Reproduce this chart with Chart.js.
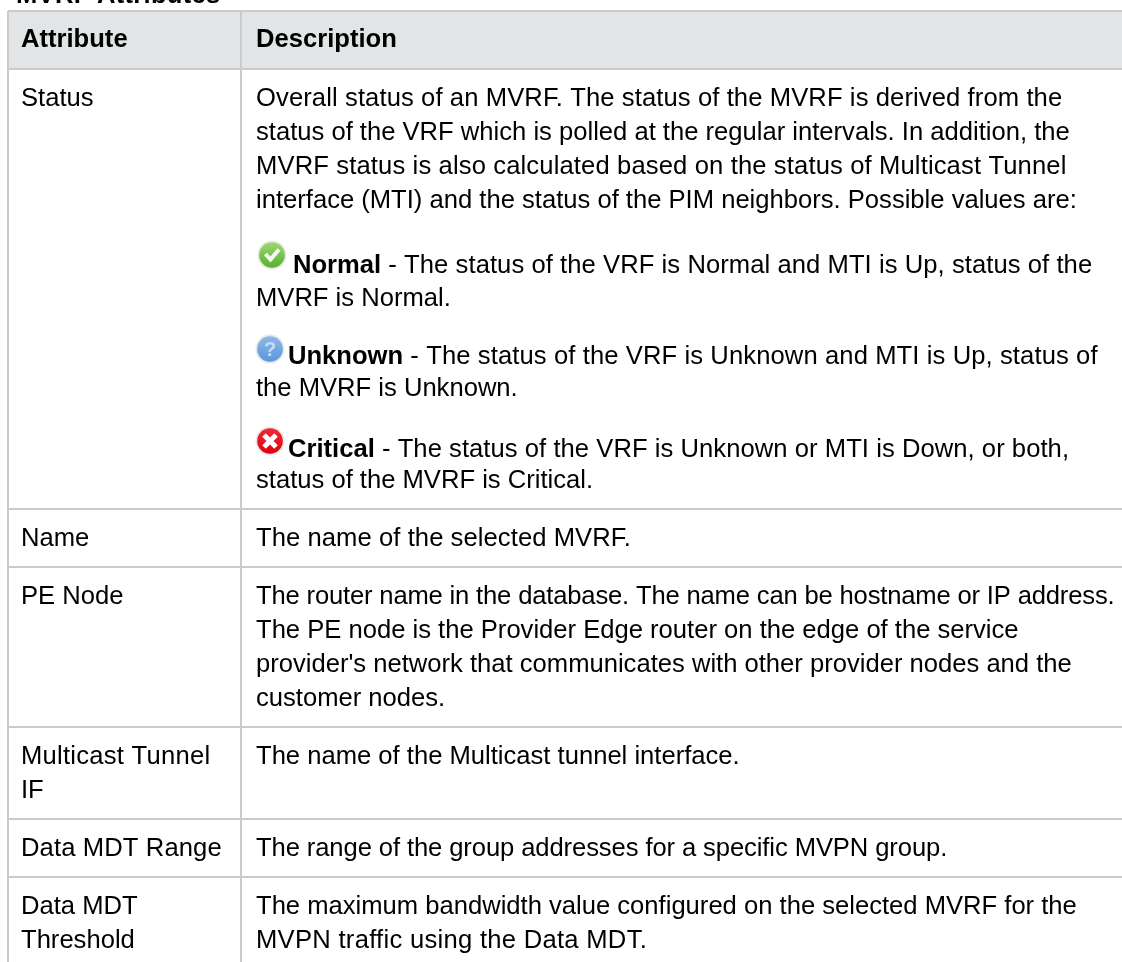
<!DOCTYPE html>
<html>
<head>
<meta charset="utf-8">
<title>MVRF Attributes</title>
<script src="https://cdn.jsdelivr.net/npm/chart.js@4"></script>
<style>
    html, body { margin: 0; padding: 0; background: #fff; overflow: hidden; }
    canvas { display: block; }
</style>
</head>
<body>
<canvas id="tabela" width="1122" height="962"></canvas>
<script>
const titulo = "MVRF Attributes";
const colunas = ["Attribute", "Description"];
const atributos = [
    ["Status"],
    ["Name"],
    ["PE Node"],
    ["Multicast Tunnel", "IF"],
    ["Data MDT Range"],
    ["Data MDT", "Threshold"]
];
const descricoes = [
    [
        "Overall status of an MVRF. The status of the MVRF is derived from the",
        "status of the VRF which is polled at the regular intervals. In addition, the",
        "MVRF status is also calculated based on the status of Multicast Tunnel",
        "interface (MTI) and the status of the PIM neighbors. Possible values are:",
        "Normal - The status of the VRF is Normal and MTI is Up, status of the",
        "MVRF is Normal.",
        "Unknown - The status of the VRF is Unknown and MTI is Up, status of",
        "the MVRF is Unknown.",
        "Critical - The status of the VRF is Unknown or MTI is Down, or both,",
        "status of the MVRF is Critical."
    ],
    ["The name of the selected MVRF."],
    [
        "The router name in the database. The name can be hostname or IP address.",
        "The PE node is the Provider Edge router on the edge of the service",
        "provider's network that communicates with other provider nodes and the",
        "customer nodes."
    ],
    ["The name of the Multicast tunnel interface."],
    ["The range of the group addresses for a specific MVPN group."],
    [
        "The maximum bandwidth value configured on the selected MVRF for the",
        "MVPN traffic using the Data MDT."
    ]
];
const statusNomes = ["Normal", "Unknown", "Critical"];

// layout da tabela, em pixels da imagem
const esquerda = 8, divisao = 241, direita = 1122, topo = 11, baixo = 962;
const bordasLinhas = [69, 509, 567, 727, 819, 877];
const passoStatus = [0, 34, 68, 102, 167, 200, 258, 290, 351, 382];
const passoLinha = 34;
const iconesStatus = {
    Normal: { cx: 272, cy: 255, cor: "#56b02c", claro: "#9ed873", xTexto: 293 },
    Unknown: { cx: 270, cy: 349, cor: "#5b95dc", claro: "#8fb8ea", xTexto: 288 },
    Critical: { cx: 270, cy: 441, cor: "#e2000f", claro: "#ee2a35", xTexto: 288 }
};
const fonte = '"Liberation Sans", Arial, sans-serif';
const tamanho = 25.6;

// algumas linhas do original saem um pouco mais largas ou mais estreitas
const espacamento = {
    "MVRF Attributes": 0.27,
    "Multicast Tunnel": 0.25,
    "Data MDT Range": 0.12,
    "Overall status of an MVRF. The status of the MVRF is derived from the": 0.1,
    "MVRF status is also calculated based on the status of Multicast Tunnel": 0.13,
    " - The status of the VRF is Normal and MTI is Up, status of the": 0.065,
    " - The status of the VRF is Unknown and MTI is Up, status of": 0.1,
    " - The status of the VRF is Unknown or MTI is Down, or both,": 0.05,
    "The name of the selected MVRF.": 0.07,
    "The router name in the database. The name can be hostname or IP address.": -0.17,
    "The range of the group addresses for a specific MVPN group.": -0.1,
    "MVPN traffic using the Data MDT.": 0.28
};

function linhaGrade(x1, y1, x2, y2) {
    return {
        data: [{ x: x1, y: y1 }, { x: x2, y: y2 }],
        showLine: true,
        borderColor: "#cbcbcb",
        borderWidth: 2,
        pointRadius: 0,
        clip: false
    };
}

function montarGrade() {
    const linhas = [
        linhaGrade(esquerda, topo, direita, topo),
        linhaGrade(esquerda, topo, esquerda, baixo),
        linhaGrade(divisao, topo, divisao, baixo)
    ];
    bordasLinhas.forEach(y => linhas.push(linhaGrade(esquerda, y, direita, y)));
    return linhas;
}

function desenharIcone(ctx, cx, cy, nome) {
    const icone = iconesStatus[nome];
    const grad = ctx.createLinearGradient(cx, cy - 13, cx, cy + 13);
    grad.addColorStop(0, icone.claro);
    grad.addColorStop(1, icone.cor);

    ctx.save();
    ctx.letterSpacing = "0px";
    ctx.beginPath();
    ctx.arc(cx, cy, 14.5, 0, Math.PI * 2);
    ctx.fillStyle = "#e6eae6";
    ctx.fill();
    ctx.beginPath();
    ctx.arc(cx, cy, 12.8, 0, Math.PI * 2);
    ctx.fillStyle = grad;
    ctx.fill();

    ctx.strokeStyle = "#f4f8f2";
    ctx.lineCap = "butt";
    if (nome === "Normal") {
        ctx.lineWidth = 4;
        ctx.beginPath();
        ctx.moveTo(cx - 6.5, cy - 1);
        ctx.lineTo(cx - 1.5, cy + 4.5);
        ctx.lineTo(cx + 7, cy - 5.5);
        ctx.stroke();
    } else if (nome === "Unknown") {
        ctx.font = "bold 20px " + fonte;
        ctx.textAlign = "center";
        ctx.fillStyle = "#c8dcf5";
        ctx.fillText("?", cx, cy + 7);
    } else {
        ctx.lineWidth = 5;
        ctx.strokeStyle = "#fff";
        ctx.beginPath();
        ctx.moveTo(cx - 6, cy - 6);
        ctx.lineTo(cx + 6, cy + 6);
        ctx.moveTo(cx + 6, cy - 6);
        ctx.lineTo(cx - 6, cy + 6);
        ctx.stroke();
    }
    ctx.restore();
}

const pluginTabela = {
    id: "pluginTabela",
    beforeDatasetsDraw(chart) {
        const { ctx, scales: { x, y } } = chart;
        ctx.save();
        ctx.fillStyle = "#e2e5e6";
        ctx.fillRect(x.getPixelForValue(esquerda), y.getPixelForValue(topo),
            x.getPixelForValue(direita) - x.getPixelForValue(esquerda),
            y.getPixelForValue(bordasLinhas[0]) - y.getPixelForValue(topo));
        ctx.restore();
    },
    afterDatasetsDraw(chart) {
        const { ctx, scales: { x, y } } = chart;
        const texto = (t, px, py, negrito) => {
            ctx.font = (negrito ? "bold " : "") + tamanho + "px " + fonte;
            ctx.letterSpacing = (espacamento[t] || 0) + "px";
            ctx.fillText(t, x.getPixelForValue(px), y.getPixelForValue(py));
        };

        ctx.save();
        ctx.fillStyle = "#000";
        ctx.textBaseline = "alphabetic";

        texto(titulo, 16, 3, true);
        texto(colunas[0], 21, 47, true);
        texto(colunas[1], 256, 47, true);

        atributos.forEach((linhas, i) => {
            const base = bordasLinhas[i] + 36.5;
            linhas.forEach((l, j) => texto(l, 21, base + j * passoLinha));
        });

        descricoes.forEach((linhas, i) => {
            const base = bordasLinhas[i] + 36.5;
            linhas.forEach((l, j) => {
                const py = base + (i === 0 ? passoStatus[j] : j * passoLinha);
                const nome = statusNomes.find(n => l.startsWith(n + " - "));
                if (nome) {
                    const icone = iconesStatus[nome];
                    desenharIcone(ctx, x.getPixelForValue(icone.cx), y.getPixelForValue(icone.cy), nome);
                    texto(nome, icone.xTexto, py, true);
                    const largura = ctx.measureText(nome).width;
                    texto(l.slice(nome.length), icone.xTexto + largura, py);
                } else {
                    texto(l, 256, py);
                }
            });
        });
        ctx.restore();
    }
};

new Chart(document.getElementById("tabela").getContext("2d"), {
    type: "scatter",
    data: { datasets: montarGrade() },
    options: {
        responsive: false,
        animation: false,
        layout: { padding: 0 },
        plugins: { legend: { display: false }, tooltip: { enabled: false } },
        scales: {
            x: { type: "linear", min: 0, max: 1122, display: false },
            y: { type: "linear", min: 0, max: 962, reverse: true, display: false }
        }
    },
    plugins: [pluginTabela]
});
</script>
</body>
</html>
